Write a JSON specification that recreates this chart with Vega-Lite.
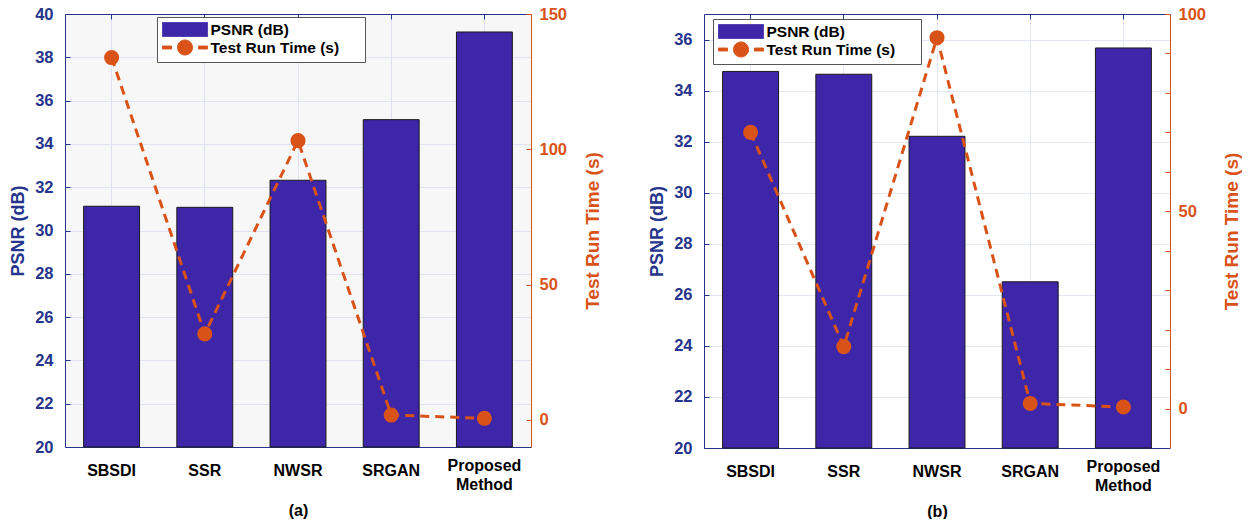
{
  "$schema": "https://vega.github.io/schema/vega-lite/v6.json",
  "background": "white",
  "padding": {"left": 9, "top": 6, "right": 0, "bottom": 0},
  "config": {
    "font": "Liberation Sans",
    "view": {"stroke": null},
    "axis": {"labelFontWeight": "bold", "titleFontWeight": "bold", "labelFont": "Liberation Sans", "titleFont": "Liberation Sans"},
    "legend": {
      "orient": "none", "title": null,
      "strokeColor": "#555555", "fillColor": "white", "padding": 4, "rowPadding": -3,
      "labelFontSize": 15.5, "labelFontWeight": "bold", "labelColor": "black", "labelLimit": 400,
      "symbolSize": 256, "symbolOffset": 15.5, "labelOffset": 17
    }
  },
  "datasets": {
    "a": [
      {"method": "SBSDI", "psnr": 31.12, "time": 133.9},
      {"method": "SSR", "psnr": 31.07, "time": 31.8},
      {"method": "NWSR", "psnr": 32.32, "time": 103.2},
      {"method": "SRGAN", "psnr": 35.12, "time": 1.8},
      {"method": "Proposed Method", "psnr": 39.17, "time": 0.6}
    ],
    "b": [
      {"method": "SBSDI", "psnr": 34.75, "time": 70.0},
      {"method": "SSR", "psnr": 34.64, "time": 15.7},
      {"method": "NWSR", "psnr": 32.21, "time": 94.0},
      {"method": "SRGAN", "psnr": 26.51, "time": 1.3},
      {"method": "Proposed Method", "psnr": 35.67, "time": 0.4}
    ]
  },
  "spacing": 45,
  "resolve": {"scale": {"color": "independent"}, "legend": {"color": "independent"}},
  "hconcat": [
    {
      "width": 466,
      "height": 433,
      "data": {"name": "a"},
      "view": {"fill": "#f7f7f7", "stroke": null},
      "layer": [
        {
          "mark": {"type": "bar", "stroke": "#1a1a1a", "strokeWidth": 1},
          "encoding": {
            "x": {
              "field": "method", "type": "nominal", "sort": null,
              "scale": {"paddingInner": 0.4, "paddingOuter": 0.2},
              "axis": {
                "orient": "bottom", "title": "(a)", "titleFontSize": 16, "titleColor": "black", "titlePadding": 10,
                "labelAngle": 0, "labelFontSize": 16, "labelColor": "black", "labelLineHeight": 19,
                "labelExpr": "datum.label === 'Proposed Method' ? ['Proposed', 'Method'] : datum.label",
                "labelPadding": {"condition": {"test": "datum.value === 'Proposed Method'", "value": 10}, "value": 15},
                "ticks": false, "grid": false, "domainColor": "#26348c", "domainWidth": 1
              }
            },
            "y": {
              "field": "psnr", "type": "quantitative",
              "scale": {"domain": [20, 40], "nice": false, "zero": false},
              "axis": {
                "orient": "left", "title": "PSNR (dB)", "titleFontSize": 18, "titleColor": "#26348c", "titlePadding": 7,
                "values": [20, 22, 24, 26, 28, 30, 32, 34, 36, 38, 40],
                "labelFontSize": 16.5, "labelColor": "#26348c", "labelPadding": 17,
                "tickSize": -5, "tickColor": "#26348c", "domainColor": "#26348c",
                "grid": true, "gridColor": "#dfe2ef", "gridWidth": 1
              }
            },
            "y2": {"datum": 20},
            "color": {
              "datum": "PSNR (dB)", "type": "nominal",
              "scale": {"domain": ["PSNR (dB)", "Test Run Time (s)"], "range": ["#3e26a8", "#d95319"]},
              "legend": {
                "legendX": 92, "legendY": 3,
                "labelExpr": "datum.label + '\u00a0\u00a0\u00a0\u00a0\u00a0\u200b'",
                "encode": {
                  "symbols": {
                    "update": {
                      "shape": {"signal": "datum.value === 'PSNR (dB)' ? 'M-2.8125,-0.875H2.8125V0.875H-2.8125Z' : 'M-2.8125,-0.1875H-1.69V0.1875H-2.8125Z M1.69,-0.1875H2.8125V0.1875H1.69Z M-0.94,0A0.94,0.94,0,1,0,0.94,0A0.94,0.94,0,1,0,-0.94,0Z'"},
                      "fill": {"signal": "datum.value === 'PSNR (dB)' ? '#3e26a8' : '#d95319'"},
                      "stroke": {"signal": "datum.value === 'PSNR (dB)' ? '#111111' : 'transparent'"},
                      "strokeWidth": {"value": 1},
                      "strokeDash": {"value": [1, 0]},
                      "opacity": {"value": 1}
                    }
                  }
                }
              }
            }
          }
        },
        {
          "encoding": {
            "x": {
              "field": "method", "type": "nominal", "sort": null,
              "axis": {
                "orient": "top", "title": null, "labels": false, "bandPosition": 0.5,
                "ticks": true, "tickSize": -5, "tickColor": "#26348c", "domainColor": "#26348c",
                "grid": true, "gridColor": "#dfe2ef", "gridWidth": 1
              }
            },
            "y": {
              "field": "time", "type": "quantitative",
              "scale": {"domain": [-10, 150], "nice": false, "zero": false},
              "axis": {
                "orient": "right", "title": "Test Run Time (s)", "titleAngle": 270, "titleFontSize": 19, "titleColor": "#d95319", "titlePadding": 36,
                "values": [0, 50, 100, 150],
                "labelFontSize": 16.5, "labelColor": "#d95319", "labelPadding": 13,
                "tickSize": -5, "tickColor": "#d95319", "domainColor": "#d95319", "grid": false
              }
            }
          },
          "layer": [
            {
              "mark": {"type": "line", "strokeDash": [9, 6], "strokeWidth": 3},
              "encoding": {
                "color": {
                  "datum": "Test Run Time (s)", "type": "nominal",
                  "legend": {
                    "legendX": 92, "legendY": 3,
                    "labelExpr": "datum.label + '\u00a0\u00a0\u00a0\u00a0\u00a0\u200b'",
                    "encode": {
                      "symbols": {
                        "update": {
                          "shape": {"signal": "datum.value === 'PSNR (dB)' ? 'M-2.8125,-0.875H2.8125V0.875H-2.8125Z' : 'M-2.8125,-0.1875H-1.69V0.1875H-2.8125Z M1.69,-0.1875H2.8125V0.1875H1.69Z M-0.94,0A0.94,0.94,0,1,0,0.94,0A0.94,0.94,0,1,0,-0.94,0Z'"},
                          "fill": {"signal": "datum.value === 'PSNR (dB)' ? '#3e26a8' : '#d95319'"},
                          "stroke": {"signal": "datum.value === 'PSNR (dB)' ? '#111111' : 'transparent'"},
                          "strokeWidth": {"value": 1},
                          "strokeDash": {"value": [1, 0]},
                          "opacity": {"value": 1}
                        }
                      }
                    }
                  }
                }
              }
            },
            {
              "mark": {"type": "point", "filled": true, "size": 227, "opacity": 1, "color": "#d95319"},
              "encoding": {}
            }
          ]
        }
      ],
      "resolve": {"scale": {"y": "independent"}, "axis": {"x": "independent"}}
    },
    {
      "width": 466,
      "height": 434,
      "data": {"name": "b"},
      "view": {"fill": "white", "stroke": null},
      "layer": [
        {
          "mark": {"type": "bar", "stroke": "#1a1a1a", "strokeWidth": 1},
          "encoding": {
            "x": {
              "field": "method", "type": "nominal", "sort": null,
              "scale": {"paddingInner": 0.4, "paddingOuter": 0.2},
              "axis": {
                "orient": "bottom", "title": "(b)", "titleFontSize": 16, "titleColor": "black", "titlePadding": 10,
                "labelAngle": 0, "labelFontSize": 16, "labelColor": "black", "labelLineHeight": 19,
                "labelExpr": "datum.label === 'Proposed Method' ? ['Proposed', 'Method'] : datum.label",
                "labelPadding": {"condition": {"test": "datum.value === 'Proposed Method'", "value": 10}, "value": 15},
                "ticks": false, "grid": false, "domainColor": "#26348c", "domainWidth": 1
              }
            },
            "y": {
              "field": "psnr", "type": "quantitative",
              "scale": {"domain": [20, 37], "nice": false, "zero": false},
              "axis": {
                "orient": "left", "title": "PSNR (dB)", "titleFontSize": 18, "titleColor": "#26348c", "titlePadding": 7,
                "values": [20, 22, 24, 26, 28, 30, 32, 34, 36],
                "labelFontSize": 16.5, "labelColor": "#26348c", "labelPadding": 17,
                "tickSize": -5, "tickColor": "#26348c", "domainColor": "#26348c",
                "grid": true, "gridColor": "#e3e6f3", "gridWidth": 1
              }
            },
            "y2": {"datum": 20},
            "color": {
              "datum": "PSNR (dB)", "type": "nominal",
              "scale": {"domain": ["PSNR (dB)", "Test Run Time (s)"], "range": ["#3e26a8", "#d95319"]},
              "legend": {
                "legendX": 9, "legendY": 5,
                "labelExpr": "datum.label + '\u00a0\u00a0\u00a0\u00a0\u00a0\u200b'",
                "encode": {
                  "symbols": {
                    "update": {
                      "shape": {"signal": "datum.value === 'PSNR (dB)' ? 'M-2.8125,-0.875H2.8125V0.875H-2.8125Z' : 'M-2.8125,-0.1875H-1.69V0.1875H-2.8125Z M1.69,-0.1875H2.8125V0.1875H1.69Z M-0.94,0A0.94,0.94,0,1,0,0.94,0A0.94,0.94,0,1,0,-0.94,0Z'"},
                      "fill": {"signal": "datum.value === 'PSNR (dB)' ? '#3e26a8' : '#d95319'"},
                      "stroke": {"signal": "datum.value === 'PSNR (dB)' ? '#111111' : 'transparent'"},
                      "strokeWidth": {"value": 1},
                      "strokeDash": {"value": [1, 0]},
                      "opacity": {"value": 1}
                    }
                  }
                }
              }
            }
          }
        },
        {
          "encoding": {
            "x": {
              "field": "method", "type": "nominal", "sort": null,
              "axis": {
                "orient": "top", "title": null, "labels": false, "bandPosition": 0.5,
                "ticks": true, "tickSize": -5, "tickColor": "#26348c", "domainColor": "#26348c",
                "grid": true, "gridColor": "#e3e6f3", "gridWidth": 1
              }
            },
            "y": {
              "field": "time", "type": "quantitative",
              "scale": {"domain": [-10, 100], "nice": false, "zero": false},
              "axis": {
                "orient": "right", "title": "Test Run Time (s)", "titleAngle": 270, "titleFontSize": 19, "titleColor": "#d95319", "titlePadding": 36,
                "values": [0, 10, 20, 30, 40, 50, 60, 70, 80, 90, 100],
                "labelExpr": "datum.value % 50 === 0 ? datum.label : ''",
                "labelFontSize": 16.5, "labelColor": "#d95319", "labelPadding": 13,
                "tickSize": -5, "tickColor": "#d95319", "domainColor": "#d95319", "grid": false
              }
            }
          },
          "layer": [
            {
              "mark": {"type": "line", "strokeDash": [9, 6], "strokeWidth": 3},
              "encoding": {
                "color": {
                  "datum": "Test Run Time (s)", "type": "nominal",
                  "legend": {
                    "legendX": 9, "legendY": 5,
                    "labelExpr": "datum.label + '\u00a0\u00a0\u00a0\u00a0\u00a0\u200b'",
                    "encode": {
                      "symbols": {
                        "update": {
                          "shape": {"signal": "datum.value === 'PSNR (dB)' ? 'M-2.8125,-0.875H2.8125V0.875H-2.8125Z' : 'M-2.8125,-0.1875H-1.69V0.1875H-2.8125Z M1.69,-0.1875H2.8125V0.1875H1.69Z M-0.94,0A0.94,0.94,0,1,0,0.94,0A0.94,0.94,0,1,0,-0.94,0Z'"},
                          "fill": {"signal": "datum.value === 'PSNR (dB)' ? '#3e26a8' : '#d95319'"},
                          "stroke": {"signal": "datum.value === 'PSNR (dB)' ? '#111111' : 'transparent'"},
                          "strokeWidth": {"value": 1},
                          "strokeDash": {"value": [1, 0]},
                          "opacity": {"value": 1}
                        }
                      }
                    }
                  }
                }
              }
            },
            {
              "mark": {"type": "point", "filled": true, "size": 227, "opacity": 1, "color": "#d95319"},
              "encoding": {}
            }
          ]
        }
      ],
      "resolve": {"scale": {"y": "independent"}, "axis": {"x": "independent"}}
    }
  ]
}
